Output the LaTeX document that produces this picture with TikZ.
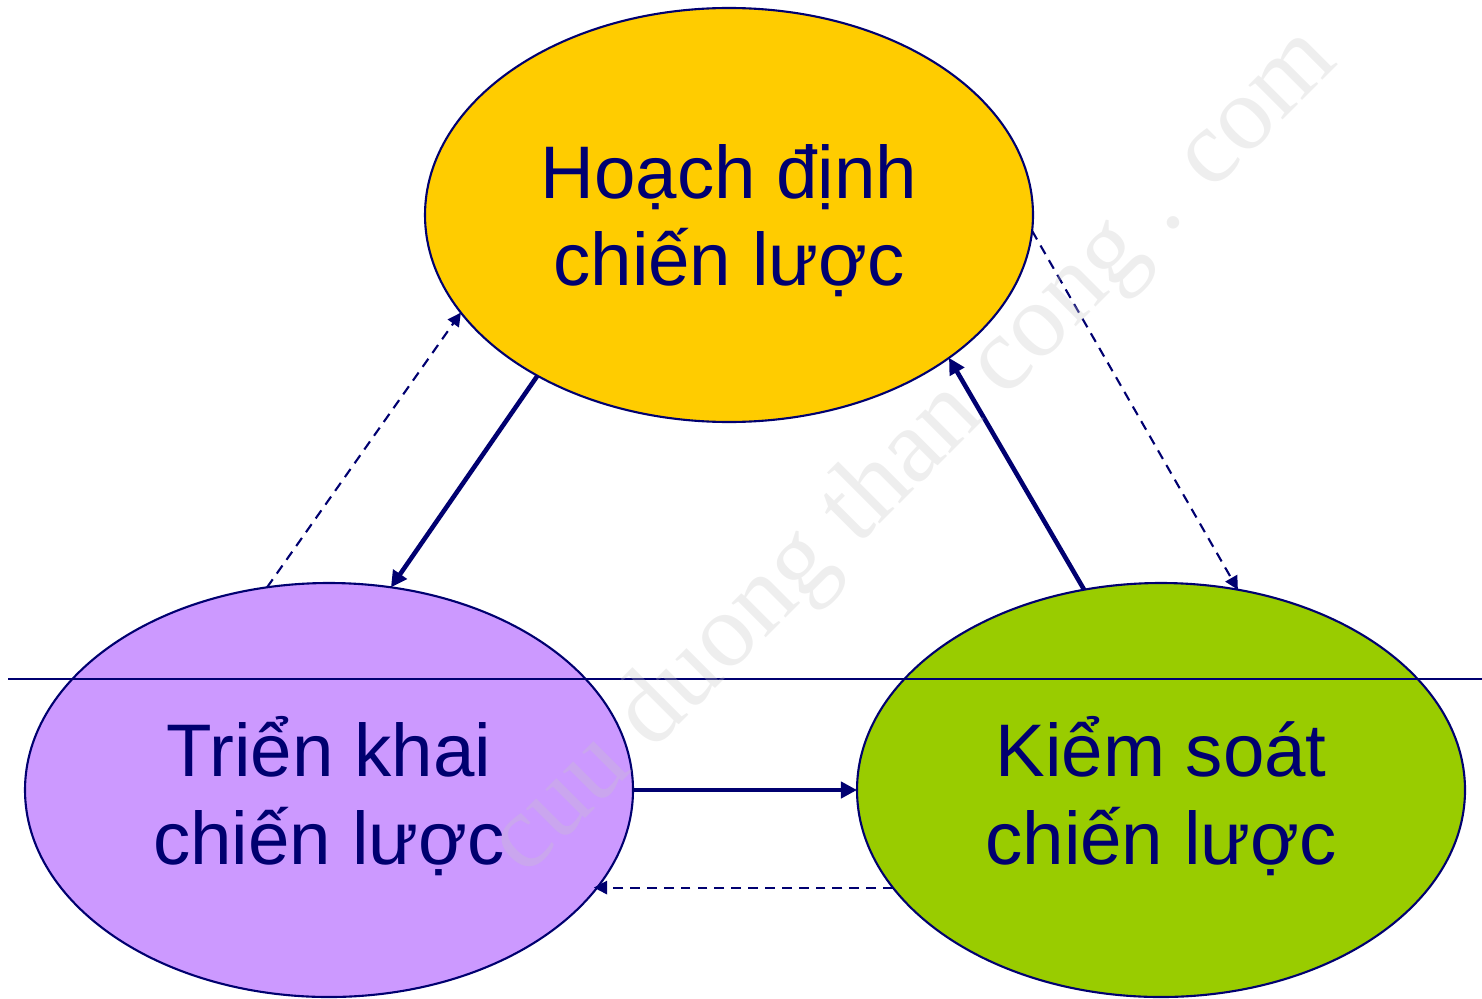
\documentclass[tikz,border=0pt]{standalone}
\usepackage{fontspec}
\setmainfont{Liberation Sans}
\newfontfamily\wmfont{Liberation Serif}
\usetikzlibrary{shapes.geometric,arrows.meta}
\definecolor{xanhdam}{RGB}{0,0,112}
\definecolor{vang}{RGB}{255,204,0}
\definecolor{tim}{RGB}{204,153,255}
\definecolor{xanhla}{RGB}{153,204,0}

\begin{document}
\begin{tikzpicture}[
    giaidoan/.style={ellipse, draw=xanhdam, line width=0.6pt, minimum width=6.08cm, minimum height=4.14cm,
      inner sep=0pt, outer sep=0pt, align=center, text=xanhdam, text depth=0pt, font=\fontsize{21.2}{25}\selectfont},
    muiten/.style={xanhdam, line width=1.3pt, -{Triangle[length=4.6pt,width=4.6pt]}},
    phanhoi/.style={xanhdam, line width=0.6pt, dash pattern=on 2.8pt off 2pt, -{Triangle[length=3.8pt,width=3.8pt]}}]
      \useasboundingbox (0, 0) rectangle (14.82, 9.98);

      % Hoạch định
      \node[giaidoan, fill=vang] (hoachdinh) at (7.29, 7.83) {Hoạch định\\chiến lược};

      % Triển khai
      \node[giaidoan, fill=tim] (trienkhai) at (3.29, 2.08) {Triển khai\\chiến lược};

      % Kiểm soát
      \node[giaidoan, fill=xanhla] (kiemsoat) at (11.61, 2.08) {Kiểm soát\\chiến lược};

      % Đường ngang
      \draw[xanhdam, line width=0.6pt] (0.08, 3.19) -- (14.82, 3.19);

      % Mũi tên chính
      \draw[muiten] (hoachdinh.220) -- (trienkhai.73);
      \draw[muiten] (trienkhai.0) -- (kiemsoat.180);
      \draw[muiten] (kiemsoat.111) -- (hoachdinh.327);

      % Phản hồi
      \draw[phanhoi] (trienkhai.107) -- (hoachdinh.200);
      \draw[phanhoi] (hoachdinh.357) -- (kiemsoat.69);
      \draw[phanhoi] (kiemsoat.200.3) -- (kiemsoat.200.3 -| trienkhai.339.7);

      % Chìm
      \node[rotate=45, text=white!78!black, text opacity=0.3, font=\wmfont\fontsize{30}{30}\selectfont]
        (chimo) at (9.15, 5.45) {cuu duong than cong . com};
\end{tikzpicture}
\end{document}
